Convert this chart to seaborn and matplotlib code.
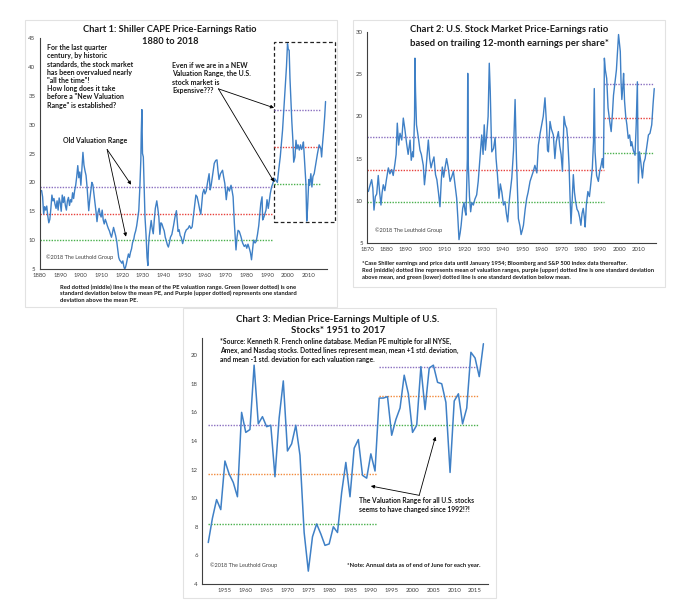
import matplotlib
matplotlib.use("Agg")
import matplotlib.pyplot as plt
from matplotlib.patches import Rectangle
import seaborn as sns
import pandas as pd

# ---------------- data ----------------
# Chart 1: Shiller CAPE
cape_years = [1881.0, 1881.5, 1882.0, 1882.5, 1883.0, 1883.5, 1884.0, 1884.5, 1885.0, 1885.5,
              1886.0, 1886.5, 1887.0, 1887.5, 1888.0, 1888.5, 1889.0, 1889.5, 1890.0, 1890.5,
              1891.0, 1891.5, 1892.0, 1892.5, 1893.0, 1893.5, 1894.0, 1894.5, 1895.0, 1895.5,
              1896.0, 1896.5, 1897.0, 1897.5, 1898.0, 1898.5, 1899.0, 1899.5, 1900.0, 1900.5,
              1901.0, 1901.5, 1902.0, 1902.5, 1903.0, 1903.5, 1903.8, 1904.3, 1904.8, 1905.3,
              1905.8, 1906.3, 1906.8, 1907.3, 1907.8, 1908.3, 1908.8, 1909.3, 1909.8, 1910.3,
              1910.8, 1911.3, 1911.8, 1912.3, 1912.8, 1913.3, 1913.8, 1914.3, 1914.8, 1915.3,
              1915.8, 1916.3, 1916.8, 1917.3, 1917.8, 1918.3, 1918.8, 1919.3, 1919.8, 1920.3,
              1920.8, 1921.2, 1921.6, 1922.0, 1922.5, 1923.0, 1923.5, 1924.0, 1924.5, 1925.0,
              1925.5, 1926.0, 1926.5, 1927.0, 1927.5, 1928.0, 1928.5, 1929.0, 1929.2, 1929.5,
              1929.8, 1930.2, 1930.6, 1931.0, 1931.5, 1932.0, 1932.4, 1932.7, 1933.0, 1933.5,
              1934.0, 1934.5, 1935.0, 1935.5, 1936.0, 1936.7, 1937.2, 1937.7, 1938.2, 1938.7,
              1939.2, 1939.7, 1940.3, 1940.8, 1941.3, 1941.8, 1942.3, 1942.8, 1943.3, 1944.0,
              1944.8, 1945.5, 1946.2, 1946.6, 1947.0, 1947.5, 1948.0, 1948.5, 1949.2, 1949.8,
              1950.3, 1951.0, 1951.8, 1952.5, 1953.2, 1953.8, 1954.3, 1955.0, 1955.6, 1956.2,
              1956.8, 1957.5, 1958.0, 1958.9, 1959.5, 1960.0, 1960.6, 1961.3, 1962.0, 1962.5,
              1963.0, 1963.6, 1964.5, 1965.2, 1965.8, 1966.3, 1966.8, 1967.5, 1968.5, 1969.0,
              1969.6, 1970.3, 1971.0, 1971.8, 1972.6, 1973.0, 1973.6, 1974.2, 1974.8, 1975.0,
              1975.5, 1976.0, 1976.6, 1977.4, 1978.2, 1979.0, 1979.7, 1980.2, 1980.8, 1981.5,
              1982.0, 1982.5, 1982.9, 1983.5, 1984.2, 1984.8, 1985.4, 1986.0, 1986.5, 1987.0,
              1987.6, 1987.9, 1988.5, 1989.5, 1990.0, 1990.6, 1991.0, 1991.6, 1992.2, 1992.8,
              1993.5, 1994.2, 1995.0, 1995.6, 1996.4, 1997.0, 1997.5, 1998.3, 1998.8, 1999.4,
              1999.9, 2000.3, 2000.7, 2001.1, 2001.5, 2002.0, 2002.5, 2002.9, 2003.5, 2004.0,
              2004.5, 2005.0, 2005.6, 2006.2, 2006.7, 2007.2, 2007.6, 2008.2, 2008.8, 2009.2,
              2009.6, 2010.2, 2010.6, 2011.2, 2011.7, 2012.2, 2012.8, 2013.6, 2014.4, 2015.2,
              2016.0, 2016.4, 2016.8, 2017.4, 2017.9, 2018.3]
cape_values = [18.6, 17.5, 14.5, 15.8, 15.2, 15.9, 14.2, 13.0, 13.6, 15.5,
               17.8, 16.8, 17.2, 16.2, 15.5, 16.8, 15.2, 17.3, 16.5, 15.0,
               17.8, 16.5, 17.5, 16.0, 15.2, 16.8, 17.4, 16.0, 17.0, 16.6,
               18.2, 17.2, 18.6, 19.5, 21.0, 22.9, 20.8, 21.8, 19.5, 22.5,
               25.2, 23.0, 22.0, 21.2, 19.2, 16.5, 15.1, 17.0, 18.5, 20.0,
               19.6, 18.0, 16.5, 15.0, 13.2, 14.8, 15.5, 14.5, 14.0, 15.2,
               13.5, 12.8, 13.6, 13.1, 12.5, 12.0, 11.6, 11.0, 10.5, 11.3,
               12.2, 11.5, 10.8, 9.9, 8.5, 7.0, 6.5, 6.3, 6.0, 6.4,
               5.4, 5.0, 5.3, 5.9, 6.8, 7.6, 7.0, 7.9, 8.5, 9.6,
               10.0, 11.0, 11.6, 12.5, 13.8, 15.1, 19.0, 24.0, 28.5, 32.6,
               25.0, 24.4, 19.0, 14.0, 11.0, 7.0, 5.6, 9.0, 10.5, 12.0,
               13.4, 12.0, 11.1, 13.5, 15.5, 16.8, 15.5, 14.0, 11.0, 13.0,
               12.8, 12.2, 11.6, 10.5, 9.9, 9.2, 8.8, 9.5, 10.5, 11.0,
               12.5, 14.0, 15.1, 13.2, 11.5, 11.8, 10.8, 10.5, 9.4, 10.2,
               11.2, 11.8, 12.0, 12.5, 12.0, 12.3, 13.8, 16.0, 17.8, 17.5,
               16.5, 15.2, 14.5, 18.1, 18.8, 18.0, 18.5, 20.1, 21.5, 18.7,
               19.5, 21.0, 23.3, 23.8, 23.9, 22.0, 20.5, 21.5, 22.1, 21.0,
               19.8, 17.0, 19.2, 18.5, 19.5, 18.8, 17.5, 13.0, 9.5, 8.3,
               10.5, 11.7, 11.5, 10.6, 9.5, 8.9, 9.2, 8.6, 9.3, 8.5,
               7.8, 6.6, 8.0, 10.0, 9.5, 9.8, 11.0, 12.5, 14.5, 16.4,
               17.5, 13.5, 14.0, 15.2, 17.0, 15.5, 16.5, 18.1, 19.2, 19.8,
               20.7, 20.4, 20.0, 22.0, 24.4, 27.0, 29.0, 33.5, 36.5, 40.0,
               44.0, 43.0, 42.9, 38.0, 34.8, 30.5, 27.3, 23.5, 24.4, 27.3,
               25.8, 26.5, 25.6, 26.5, 25.7, 26.2, 27.0, 23.5, 19.8, 13.3,
               15.5, 20.5, 19.5, 21.5, 19.2, 21.0, 21.5, 23.3, 25.0, 26.5,
               25.9, 24.4, 26.5, 29.0, 31.5, 34.0]
# valuation ranges: start, end, upper(+1sd), mean, lower(-1sd)
c1_range_start = [1880, 1993.5]
c1_range_end = [1992.2, 2016.2]
c1_upper = [19.2, 32.5]
c1_mean = [14.6, 26.2]
c1_lower = [10.1, 19.8]

# Chart 2: trailing 12-month P/E
pe_years = [1870.7, 1871.5, 1872.4, 1873.0, 1873.6, 1874.3, 1875.0, 1875.8, 1876.5, 1877.2,
            1877.8, 1878.4, 1879.2, 1880.0, 1881.0, 1881.8, 1882.7, 1883.5, 1884.4, 1885.0,
            1885.6, 1886.3, 1887.0, 1887.9, 1888.7, 1889.5, 1890.4, 1891.2, 1892.2, 1892.8,
            1893.5, 1893.9, 1894.5, 1894.7, 1895.0, 1895.5, 1896.5, 1897.3, 1898.0, 1899.0,
            1899.6, 1900.3, 1901.0, 1901.6, 1902.3, 1903.0, 1903.6, 1904.5, 1905.3, 1906.0,
            1906.8, 1907.6, 1908.3, 1908.8, 1909.5, 1910.2, 1911.0, 1911.8, 1912.8, 1913.6,
            1914.5, 1915.3, 1916.2, 1916.8, 1917.4, 1918.0, 1918.5, 1919.3, 1920.0, 1920.5,
            1921.0, 1921.7, 1921.9, 1922.2, 1922.8, 1923.4, 1924.0, 1924.8, 1925.6, 1926.5,
            1927.3, 1928.2, 1929.1, 1929.8, 1930.4, 1931.0, 1931.7, 1932.4, 1933.0, 1933.5,
            1934.0, 1934.3, 1935.2, 1936.0, 1936.5, 1937.2, 1938.0, 1938.7, 1939.5, 1940.3,
            1941.1, 1941.8, 1942.5, 1943.3, 1944.0, 1944.6, 1945.5, 1946.3, 1946.6, 1947.0,
            1948.0, 1948.8, 1949.4, 1950.0, 1950.6, 1951.5, 1952.3, 1953.0, 1954.0, 1955.0,
            1955.7, 1956.5, 1957.5, 1958.3, 1959.2, 1960.0, 1960.8, 1961.7, 1962.5, 1963.0,
            1963.5, 1964.3, 1965.0, 1966.0, 1966.8, 1967.5, 1968.6, 1969.3, 1970.0, 1970.7,
            1971.5, 1972.2, 1972.9, 1973.5, 1974.1, 1974.6, 1975.1, 1975.6, 1976.3, 1976.9,
            1977.5, 1978.2, 1978.9, 1979.6, 1980.2, 1980.8, 1981.4, 1982.0, 1982.4, 1983.0,
            1983.8, 1984.6, 1985.3, 1986.1, 1986.7, 1987.1, 1987.5, 1988.3, 1989.2, 1989.9,
            1990.6, 1991.2, 1991.8, 1992.1, 1992.3, 1992.8, 1993.5, 1994.2, 1995.0, 1995.8,
            1996.5, 1997.0, 1997.8, 1998.5, 1999.0, 1999.6, 2000.5, 2000.9, 2001.3, 2001.8,
            2002.2, 2002.7, 2003.3, 2003.9, 2004.6, 2005.3, 2006.0, 2006.4, 2007.2, 2008.1,
            2008.7, 2009.3, 2009.6, 2009.8, 2010.4, 2011.1, 2011.9, 2012.6, 2013.3, 2014.2,
            2015.0, 2015.8, 2016.7, 2017.4, 2018.0]
pe_values = [11.1, 11.8, 12.5, 11.5, 8.9, 10.5, 10.8, 13.0, 11.0, 9.5,
             11.0, 11.9, 11.2, 12.5, 13.9, 13.2, 13.7, 13.0, 14.4, 15.5,
             19.2, 16.6, 18.0, 17.2, 19.8, 18.5, 16.8, 15.5, 17.2, 14.8,
             15.8, 15.2, 20.0, 26.9, 23.0, 19.0, 17.4, 16.0, 15.5, 14.2,
             11.9, 13.5, 15.5, 17.2, 15.0, 13.9, 14.5, 15.2, 13.1, 12.5,
             11.0, 9.3, 12.5, 14.0, 12.8, 13.9, 15.0, 14.0, 12.3, 12.8,
             13.5, 12.0, 10.3, 8.0, 5.4, 6.2, 7.1, 9.1, 9.8, 8.8,
             8.3, 15.0, 25.1, 14.2, 10.5, 8.7, 9.8, 9.5, 10.2, 10.7,
             12.3, 15.0, 17.8, 15.5, 19.0, 16.0, 17.8, 20.0, 26.3, 23.0,
             18.0, 15.8, 16.2, 17.5, 15.0, 13.1, 10.3, 12.0, 11.0, 9.5,
             9.9, 8.5, 7.5, 10.0, 11.5, 12.7, 16.0, 22.0, 19.0, 15.0,
             7.9, 7.0, 6.0, 6.5, 7.1, 9.0, 10.3, 11.0, 12.3, 13.0,
             13.5, 14.2, 13.3, 16.6, 18.0, 19.0, 20.0, 22.2, 19.0, 16.0,
             15.8, 19.4, 18.5, 17.8, 15.0, 17.0, 18.2, 16.5, 15.5, 13.5,
             20.0, 19.0, 18.6, 17.0, 14.2, 10.5, 7.3, 9.5, 13.1, 11.0,
             9.9, 9.0, 8.7, 8.0, 7.1, 8.5, 9.1, 8.0, 6.9, 9.5,
             11.1, 10.5, 12.0, 13.9, 17.0, 23.3, 15.8, 13.0, 12.3, 13.5,
             14.2, 15.0, 13.9, 20.0, 26.9, 25.5, 24.5, 21.0, 19.5, 18.2,
             20.5, 22.5, 24.1, 25.5, 27.5, 29.7, 27.7, 24.0, 22.0, 23.5,
             25.1, 21.8, 20.0, 19.0, 17.4, 17.8, 16.5, 17.0, 16.0, 15.4,
             19.0, 24.1, 16.0, 12.1, 15.8, 14.5, 12.7, 14.5, 15.0, 16.5,
             17.8, 18.0, 19.0, 21.5, 23.3]
c2_range_start = [1870, 1992.0]
c2_range_end = [1992.0, 2018.0]
c2_upper = [17.6, 23.8]
c2_mean = [13.7, 19.8]
c2_lower = [9.8, 15.7]

# Chart 3: median P/E, annual 1951-2017
med_years = list(range(1951, 2018))
med_values = [6.9, 8.6, 9.9, 9.2, 12.6, 11.7, 11.1, 10.1, 16.0, 14.6,
              14.8, 19.3, 15.2, 15.7, 15.0, 15.1, 11.5, 15.6, 18.2, 13.3,
              13.8, 15.1, 13.0, 7.6, 4.9, 7.3, 8.2, 7.5, 6.7, 6.8,
              8.0, 7.6, 10.4, 12.5, 10.1, 13.5, 14.1, 11.6, 11.4, 13.1,
              11.9, 17.0, 17.0, 17.1, 14.4, 15.5, 16.3, 18.6, 17.3, 14.6,
              15.1, 19.2, 16.2, 19.1, 19.3, 18.1, 18.0, 16.7, 11.8, 16.8,
              17.3, 15.2, 16.3, 20.2, 19.8, 18.5, 20.8]
c3_range_start = [1951, 1991.9]
c3_range_end = [1991.5, 2015.9]
c3_upper = [15.15, 19.15]
c3_mean = [11.7, 17.15]
c3_lower = [8.2, 15.1]

c1_xticks = list(range(1880, 2011, 10))
c1_yticks = list(range(5, 46, 5))
c2_xticks = list(range(1870, 2011, 10))
c2_yticks = list(range(5, 31, 5))
c3_xticks = list(range(1955, 2016, 5))
c3_yticks = list(range(4, 21, 2))

# ---------------- style ----------------
sns.set_style("white")
plt.rcParams['font.family'] = ['Lato', 'DejaVu Sans']
LINE = "#3f80c6"
PURPLE = "#8a6fc0"
RED = "#e8413c"
GREEN = "#49b04c"
ORANGE = "#f28a3c"
W, H = 680, 616

fig = plt.figure(figsize=(6.8, 6.16), dpi=100)
fig.patch.set_facecolor("white")

def fx(px):
    return px / W

def fy(py):
    return 1 - py / H

# panel frames
for (l, t, r, b) in [(25, 20, 337, 307), (353, 20, 665, 287), (183, 308, 496, 598)]:
    fig.patches.append(Rectangle((fx(l), fy(b)), fx(r - l), (b - t) / H,
                                 transform=fig.transFigure, fill=False,
                                 edgecolor="#e2e2e2", lw=0.8, zorder=0))

def make_axes(l, r, t, b):
    ax = fig.add_axes([fx(l), fy(b), fx(r - l), (b - t) / H])
    ax.set_facecolor("none")
    for s in ["top", "right"]:
        ax.spines[s].set_visible(False)
    for s in ["left", "bottom"]:
        ax.spines[s].set_color("#404040")
        ax.spines[s].set_linewidth(0.8)
    ax.tick_params(axis="both", direction="inout", length=3, width=0.6,
                   labelsize=4.3, colors="#404040", pad=1.5)
    return ax

def ranges(ax, starts, ends, up, mid, low, midcol):
    for s, e, u, m, lo in zip(starts, ends, up, mid, low):
        ax.plot([s, e], [u, u], color=PURPLE, lw=1.0, ls=(0, (1, 1)))
        ax.plot([s, e], [m, m], color=midcol, lw=1.0, ls=(0, (1, 1)))
        ax.plot([s, e], [lo, lo], color=GREEN, lw=1.0, ls=(0, (1, 1)))

BOLD = dict(fontweight="bold", color="#1a1a1a")
ARROW = dict(arrowstyle="-|>", color="black", lw=0.6, mutation_scale=5, shrinkA=0, shrinkB=0)

# ---------------- Chart 1 ----------------
ax1 = make_axes(39.5, 327, 38, 269)
df1 = pd.DataFrame({"year": cape_years, "pe": cape_values})
ranges(ax1, c1_range_start, c1_range_end, c1_upper, c1_mean, c1_lower, RED)
sns.lineplot(data=df1, x="year", y="pe", ax=ax1, color=LINE, lw=1.0)
ax1.set_xlim(1880, 2019)
ax1.set_ylim(5, 45)
ax1.set_xticks(c1_xticks)
ax1.set_yticks(c1_yticks)
ax1.set_xlabel("")
ax1.set_ylabel("")
ax1.add_patch(Rectangle((1993.6, 13.1), 29.3, 31.2, fill=False, ls=(0, (3, 2)),
                        lw=0.9, edgecolor="#222222", clip_on=False))
fig.text(fx(170), fy(29), "Chart 1: Shiller CAPE Price-Earnings Ratio", ha="center",
         va="center", fontsize=6.7, **BOLD)
fig.text(fx(170), fy(42), "1880 to 2018", ha="center", va="center", fontsize=6.7, **BOLD)
fig.text(fx(47), fy(44), 'For the last quarter\ncentury, by historic\nstandards, the stock market\n'
         'has been overvalued nearly\n"all the time"!\nHow long does it take\n'
         'before a "New Valuation\nRange" is established?', ha="left", va="top",
         fontsize=5.0, linespacing=1.2, **BOLD)
fig.text(fx(172), fy(62), "Even if we are in a NEW\nValuation Range, the U.S.\nstock market is\nExpensive???",
         ha="left", va="top", fontsize=5.0, linespacing=1.2, **BOLD)
ax1.annotate("", xy=(1993.4, 32.9), xytext=(1966.5, 36.2), arrowprops=ARROW)
ax1.annotate("", xy=(1993.4, 20.1), xytext=(1966.5, 36.2), arrowprops=ARROW)
fig.text(fx(95), fy(141), "Old Valuation Range", ha="center", va="center", fontsize=5.0, **BOLD)
ax1.annotate("", xy=(1924.3, 19.6), xytext=(1912.7, 25.7), arrowprops=ARROW)
ax1.annotate("", xy=(1921.8, 10.6), xytext=(1912.7, 25.7), arrowprops=ARROW)
ax1.text(1883.3, 7.1, "\u00a92018 The Leuthold Group", fontsize=4.0, color="#404040", va="center")
fig.text(fx(60), fy(284), "Red dotted (middle) line is the mean of the PE valuation range. Green (lower dotted) is one\n"
         "standard deviation below the mean PE, and Purple (upper dotted) represents one standard\n"
         "deviation above the mean PE.", ha="left", va="top", fontsize=4.2, linespacing=1.3, **BOLD)

# ---------------- Chart 2 ----------------
ax2 = make_axes(367, 656, 32, 243)
df2 = pd.DataFrame({"year": pe_years, "pe": pe_values})
ranges(ax2, c2_range_start, c2_range_end, c2_upper, c2_mean, c2_lower, RED)
sns.lineplot(data=df2, x="year", y="pe", ax=ax2, color=LINE, lw=1.0)
ax2.set_xlim(1870, 2018.9)
ax2.set_ylim(5, 30)
ax2.set_xticks(c2_xticks)
ax2.set_yticks(c2_yticks)
ax2.set_xlabel("")
ax2.set_ylabel("")
fig.text(fx(509), fy(30), "Chart 2: U.S. Stock Market Price-Earnings ratio", ha="center",
         va="center", fontsize=6.8, **BOLD)
fig.text(fx(509), fy(43), "based on trailing 12-month earnings per share*", ha="center",
         va="center", fontsize=6.8, **BOLD)
ax2.text(1874.2, 6.5, "\u00a92018 The Leuthold Group", fontsize=4.0, color="#404040", va="center")
fig.text(fx(362), fy(261), "*Case Shiller earnings and price data until January 1954; Bloomberg and S&P 500 index data thereafter.\n"
         "Red (middle) dotted line represents mean of valuation ranges, purple (upper) dotted line is one standard deviation\n"
         "above mean, and green (lower) dotted line is one standard deviation below mean.",
         ha="left", va="top", fontsize=4.15, linespacing=1.3, **BOLD)

# ---------------- Chart 3 ----------------
ax3 = make_axes(202, 488, 338, 584)
df3 = pd.DataFrame({"year": med_years, "pe": med_values})
ranges(ax3, c3_range_start, c3_range_end, c3_upper, c3_mean, c3_lower, ORANGE)
sns.lineplot(data=df3, x="year", y="pe", ax=ax3, color=LINE, lw=1.1)
ax3.set_xlim(1949.5, 2018.1)
ax3.set_ylim(4, 21.2)
ax3.set_xticks(c3_xticks)
ax3.set_yticks(c3_yticks)
ax3.set_xlabel("")
ax3.set_ylabel("")
fig.text(fx(338), fy(320), "Chart 3: Median Price-Earnings Multiple of U.S.", ha="center",
         va="center", fontsize=6.9, **BOLD)
fig.text(fx(338), fy(330.5), "Stocks* 1951 to 2017", ha="center", va="center", fontsize=6.9, **BOLD)
fig.text(fx(220), fy(338), "*Source: Kenneth R. French online database. Median PE multiple for all NYSE,\n"
         "Amex, and Nasdaq stocks. Dotted lines represent mean, mean +1 std. deviation,\n"
         "and mean -1 std. deviation for each valuation range.",
         ha="left", va="top", fontsize=4.85, linespacing=1.3, **BOLD)
ax3.text(1987.1, 9.5, "The Valuation Range for all U.S. stocks\nseems to have changed since 1992!?!",
         ha="left", va="center", fontsize=4.9, linespacing=1.35, **BOLD)
ax3.annotate("", xy=(1990.0, 10.85), xytext=(2001.6, 10.2), arrowprops=ARROW)
ax3.annotate("", xy=(2005.5, 14.3), xytext=(2001.6, 10.2), arrowprops=ARROW)
ax3.text(1951.4, 5.3, "\u00a92018 The Leuthold Group", fontsize=4.0, color="#404040", va="center")
ax3.text(2016.3, 5.3, "*Note: Annual data as of end of June for each year.", fontsize=4.2,
         ha="right", va="center", **BOLD)

fig.savefig("out.png", dpi=100, facecolor="white")
